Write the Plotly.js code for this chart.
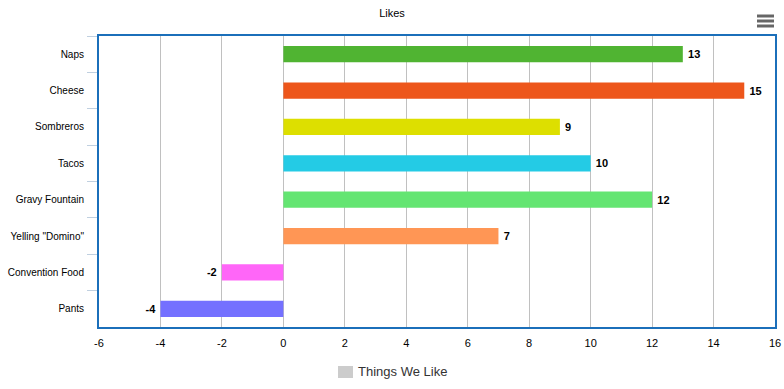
<!DOCTYPE html>
<html>
<head>
<meta charset="utf-8">
<script src="https://cdn.plot.ly/plotly-3.0.1.min.js"></script>
<style>html,body{margin:0;padding:0;background:#fff;}#chart{width:784px;height:389px;}</style>
</head>
<body>
<div id="chart"></div>
<script>
const categories = ["Naps", "Cheese", "Sombreros", "Tacos", "Gravy Fountain", "Yelling \"Domino\"", "Convention Food", "Pants"];
const values = [13, 15, 9, 10, 12, 7, -2, -4];
const barColors = ["#50B432", "#ED561B", "#DDDF00", "#24CBE5", "#64E572", "#FF9655", "#FF66F8", "#7470FF"];
const xTicks = [-6, -4, -2, 0, 2, 4, 6, 8, 10, 12, 14, 16];
const seriesName = "Things We Like";
const chartTitle = "Likes";

const font = "Liberation Sans, Arial, sans-serif";

const bars = {
  type: "bar",
  orientation: "h",
  x: values,
  y: categories,
  name: seriesName,
  marker: {color: barColors},
  width: 0.45,
  text: values.map(v => v >= 0 ? "\u2009" + v : v + "\u2009"),
  textposition: "outside",
  textfont: {family: font, size: 11, color: "#000", weight: "bold"},
  cliponaxis: false,
  showlegend: false,
  hoverinfo: "x+y"
};

function px2x(p){ return (p - 99) / 676; }
function px2y(p){ return (327 - p) / 291; }
const menuShapes = [16, 21, 26].map(yy => ({
  type: "line", xref: "paper", yref: "paper",
  x0: px2x(757), x1: px2x(774), y0: px2y(yy), y1: px2y(yy),
  line: {color: "#666666", width: 3}
}));
const legendShape = {
  type: "rect", xref: "paper", yref: "paper",
  x0: px2x(338), x1: px2x(353), y0: px2y(378), y1: px2y(366),
  fillcolor: "#CCCCCC", line: {width: 0}
};

const layout = {
  width: 784, height: 389,
  margin: {l: 99, r: 9, t: 36, b: 62},
  paper_bgcolor: "#fff", plot_bgcolor: "#fff",
  font: {family: font, size: 11, color: "#000"},
  title: {text: chartTitle, x: 0.5, xanchor: "center", y: 1 - 13/389, yref: "container", yanchor: "middle",
          font: {family: font, size: 11, color: "#000"}},
  barmode: "overlay",
  xaxis: {
    range: [-6, 16], tickvals: xTicks, ticktext: xTicks.map(String),
    showgrid: true, gridcolor: "#C0C0C0", gridwidth: 1,
    zeroline: false, showline: true, mirror: true, linecolor: "#1B6FBA", linewidth: 2,
    ticks: "", ticklabelstandoff: 5,
    tickfont: {family: font, size: 11, color: "#000"},
    fixedrange: true
  },
  yaxis: {
    type: "category", autorange: "reversed",
    showgrid: false, zeroline: false,
    showline: true, mirror: true, linecolor: "#1B6FBA", linewidth: 2,
    ticks: "outside", tickson: "boundaries", ticklen: 10, tickcolor: "#C0D0E0", tickwidth: 1,
    ticklabelstandoff: 11,
    tickfont: {family: font, size: 10, color: "#000"},
    fixedrange: true
  },
  showlegend: false,
  shapes: menuShapes.concat([legendShape]),
  annotations: [{
    text: seriesName, xref: "paper", yref: "paper",
    x: px2x(356), y: px2y(372), xanchor: "left", yanchor: "middle", showarrow: false,
    font: {family: font, size: 13, color: "#333333"}
  }]
};

Plotly.newPlot("chart", [bars], layout, {displayModeBar: false});
</script>
</body>
</html>
